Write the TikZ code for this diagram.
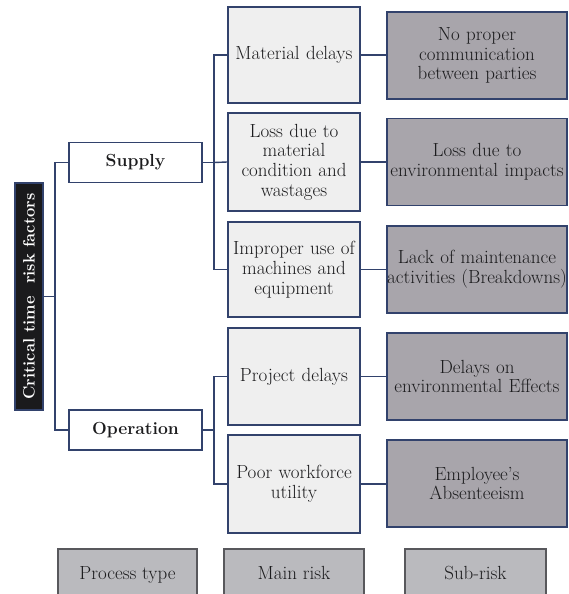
\documentclass[tikz,border=0pt]{standalone}
\usetikzlibrary{positioning}

\definecolor{navy}{RGB}{50,66,108}
\definecolor{mainfill}{RGB}{239,239,239}
\definecolor{subfill}{RGB}{168,165,171}
\definecolor{titlefill}{RGB}{26,26,28}
\definecolor{keyfill}{RGB}{186,186,190}
\definecolor{keyline}{RGB}{88,88,92}
\definecolor{ink}{RGB}{28,28,30}

% a line that may run past the text width, kept centred
\newcommand\fitline[1]{\hbox to\hsize{\hss#1\hss}}

\tikzset{
  box/.style={draw=navy, line width=1.6pt, inner sep=1pt, align=center,
    text=ink, font=\fontsize{19}{19.7}\selectfont},
  titlebox/.style={box, fill=titlefill, text=white,
    minimum width=227pt, minimum height=28pt, rotate=90,
    font=\fontsize{16.5}{19.7}\selectfont\bfseries},
  procbox/.style={box, fill=white, minimum width=133pt, minimum height=40pt,
    font=\fontsize{17.5}{19.7}\selectfont\bfseries},
  mainbox/.style={box, fill=mainfill, minimum width=132pt, text width=130pt},
  subbox/.style={box, fill=subfill, minimum width=180pt, minimum height=87pt, text width=178pt},
  keybox/.style={box, draw=keyline, fill=keyfill, minimum height=51pt,
    text height=13pt, text depth=4pt},
  link/.style={draw=navy, line width=1.4pt},
}

\begin{document}
\begin{tikzpicture}[x=1pt, y=-1pt]
  \useasboundingbox (0,0) rectangle (568,594);
  \clip (0,0) rectangle (568,594);

  % root of the tree
  \node[titlebox] (title) at (29,296.5) {Critical time\ \ risk factors};

  % process types
  \node[procbox] (supply) at (135.5,162.5) {Supply};
  \node[procbox] (oper)   at (135.5,430)   {Operation};

  % main risks
  \node[mainbox, minimum height=96pt] (m1) at (294,55)    {Material delays};
  \node[mainbox, minimum height=98pt] (m2) at (294,162)   {Loss due to\\material\\condition and\\wastages};
  \node[mainbox, minimum height=95pt] (m3) at (294,269.5) {Improper use of\\machines and\\equipment};
  \node[mainbox, minimum height=97pt] (m4) at (294,376.5) {Project delays};
  \node[mainbox, minimum height=98pt] (m5) at (294,484)   {Poor workforce\\utility};

  % sub-risks
  \node[subbox] (s1) at (477,55.5)  {No proper\\communication\\between parties};
  \node[subbox] (s2) at (477,162)   {Loss due to\\\fitline{environmental impacts}};
  \node[subbox] (s3) at (477,269.5) {Lack of maintenance\\\fitline{activities (Breakdowns)}};
  \node[subbox] (s4) at (477,376.5) {Delays on\\\fitline{environmental Effects}};
  \node[subbox] (s5) at (477,483.5) {Employee's\\Absenteeism};

  % key
  \node[keybox, minimum width=139pt] (k1) at (127.5,574.5) {Process type};
  \node[keybox, minimum width=140pt] (k2) at (294,574.5)   {Main risk};
  \node[keybox, minimum width=141pt] (k3) at (475.5,574.5) {Sub-risk};

  % junction points
  \coordinate (tj) at (55,296.5);
  \coordinate (sj) at (214,162.5);
  \coordinate (oj) at (214,430);

  % connectors
  \draw[link] (title.south) -- (tj);
  \draw[link] (tj) |- (supply.west);
  \draw[link] (tj) |- (oper.west);

  \draw[link] (supply.east) -- (sj);
  \draw[link] (sj) |- (m1.west);
  \draw[link] (sj) -- (m2.west);
  \draw[link] (sj) |- (m3.west);

  \draw[link] (oper.east) -- (oj);
  \draw[link] (oj) |- (m4.west);
  \draw[link] (oj) |- (m5.west);

  \draw[link] (m1.east) -- (s1.west |- m1.east);
  \draw[link] (m2.east) -- (s2.west |- m2.east);
  \draw[link] (m3.east) -- (s3.west |- m3.east);
  \draw[link] (m4.east) -- (s4.west |- m4.east);
  \draw[link] (m5.east) -- (s5.west |- m5.east);
\end{tikzpicture}
\end{document}
